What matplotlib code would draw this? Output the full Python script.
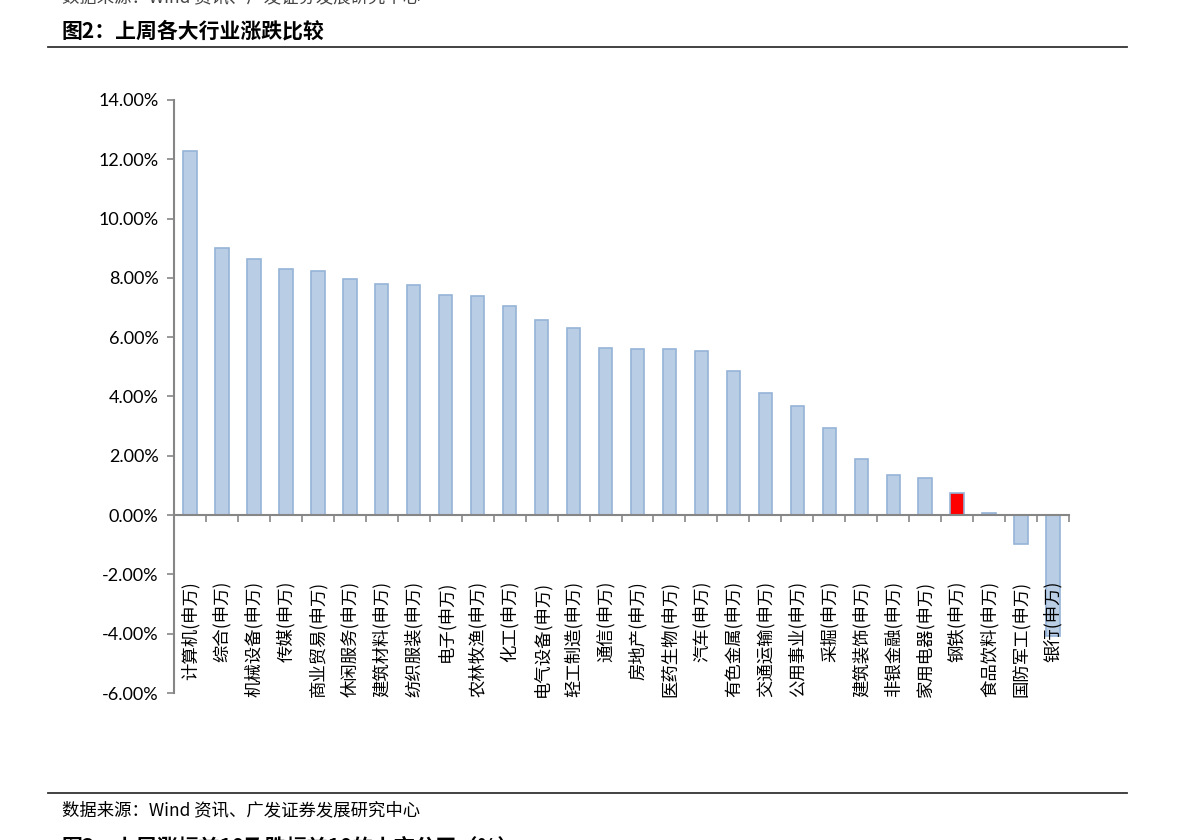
import matplotlib.pyplot as plt
from matplotlib.lines import Line2D
from matplotlib.ticker import FuncFormatter

plt.rcParams['font.family'] = ['Noto Sans CJK SC', 'DejaVu Sans']

industries = ['计算机', '综合', '机械设备', '传媒', '商业贸易', '休闲服务', '建筑材料',
              '纺织服装', '电子', '农林牧渔', '化工', '电气设备', '轻工制造', '通信',
              '房地产', '医药生物', '汽车', '有色金属', '交通运输', '公用事业', '采掘',
              '建筑装饰', '非银金融', '家用电器', '钢铁', '食品饮料', '国防军工', '银行']
changes = [12.28, 9.00, 8.63, 8.30, 8.23, 7.96, 7.79,
           7.77, 7.42, 7.39, 7.05, 6.58, 6.31, 5.63,
           5.60, 5.60, 5.53, 4.86, 4.11, 3.67, 2.93,
           1.89, 1.35, 1.25, 0.74, 0.07, -0.98, -4.08]
highlight = '钢铁'
yticks = [-6, -4, -2, 0, 2, 4, 6, 8, 10, 12, 14]

fig = plt.figure(figsize=(11.91, 8.40), dpi=100)
fig.patch.set_facecolor('white')
ax = fig.add_axes([0.1461, 0.175, 0.7515, 0.706])

colors = ['#FF0000' if name == highlight else '#B9CDE5' for name in industries]
ax.bar(range(len(industries)), changes, width=0.42, color=colors,
       edgecolor='#95B3D7', linewidth=1.2, zorder=2)

ax.set_xlim(-0.5, len(industries) - 0.5)
ax.set_ylim(-6, 14)
ax.set_yticks(yticks)
ax.yaxis.set_major_formatter(FuncFormatter(lambda v, p: f'{v:.2f}%'))
for lab in ax.get_yticklabels():
    lab.set_fontfamily(['Lato', 'DejaVu Sans'])
    lab.set_fontsize(13)
ax.tick_params(axis='y', direction='out', length=5, width=1.2, color='#868686', pad=6)

ax.set_xticks([i - 0.5 for i in range(len(industries) + 1)])
ax.set_xticklabels([])
ax.tick_params(axis='x', direction='out', length=5, width=1.2, color='#868686')

for s in ['top', 'right']:
    ax.spines[s].set_visible(False)
ax.spines['bottom'].set_position(('data', 0))
for s in ['left', 'bottom']:
    ax.spines[s].set_color('#868686')
    ax.spines[s].set_linewidth(1.5)
    ax.spines[s].set_zorder(3)

for i, name in enumerate(industries):
    ax.annotate(name + '(申万)', (i, 0), xytext=(0, -47.5), textcoords='offset points',
                rotation=90, ha='center', va='top', fontsize=12.5, color='black', zorder=4)

# page frame: title, rules, source
fig.text(62 / 1191, 1 - 31 / 840, '图2：上周各大行业涨跌比较', fontsize=15,
         fontweight='bold', va='center', ha='left')
fig.add_artist(Line2D([48 / 1191, 1127 / 1191], [1 - 47 / 840] * 2, color='#333333', lw=1.3))
fig.add_artist(Line2D([48 / 1191, 1127 / 1191], [1 - 793 / 840] * 2, color='#333333', lw=1.3))
fig.text(62 / 1191, 1 - 810 / 840, '数据来源：Wind 资讯、广发证券发展研究中心', fontsize=12.5,
         va='center', ha='left')
fig.text(62 / 1191, 1 + 3 / 840, '数据来源：Wind 资讯、广发证券发展研究中心', fontsize=12.5,
         va='center', ha='left', color='#444444')
fig.text(62 / 1191, 1 - 847 / 840, '图3：上周涨幅前10及跌幅前10的上市公司（%）', fontsize=15,
         fontweight='bold', va='center', ha='left')

fig.savefig('out.png', dpi=100)
